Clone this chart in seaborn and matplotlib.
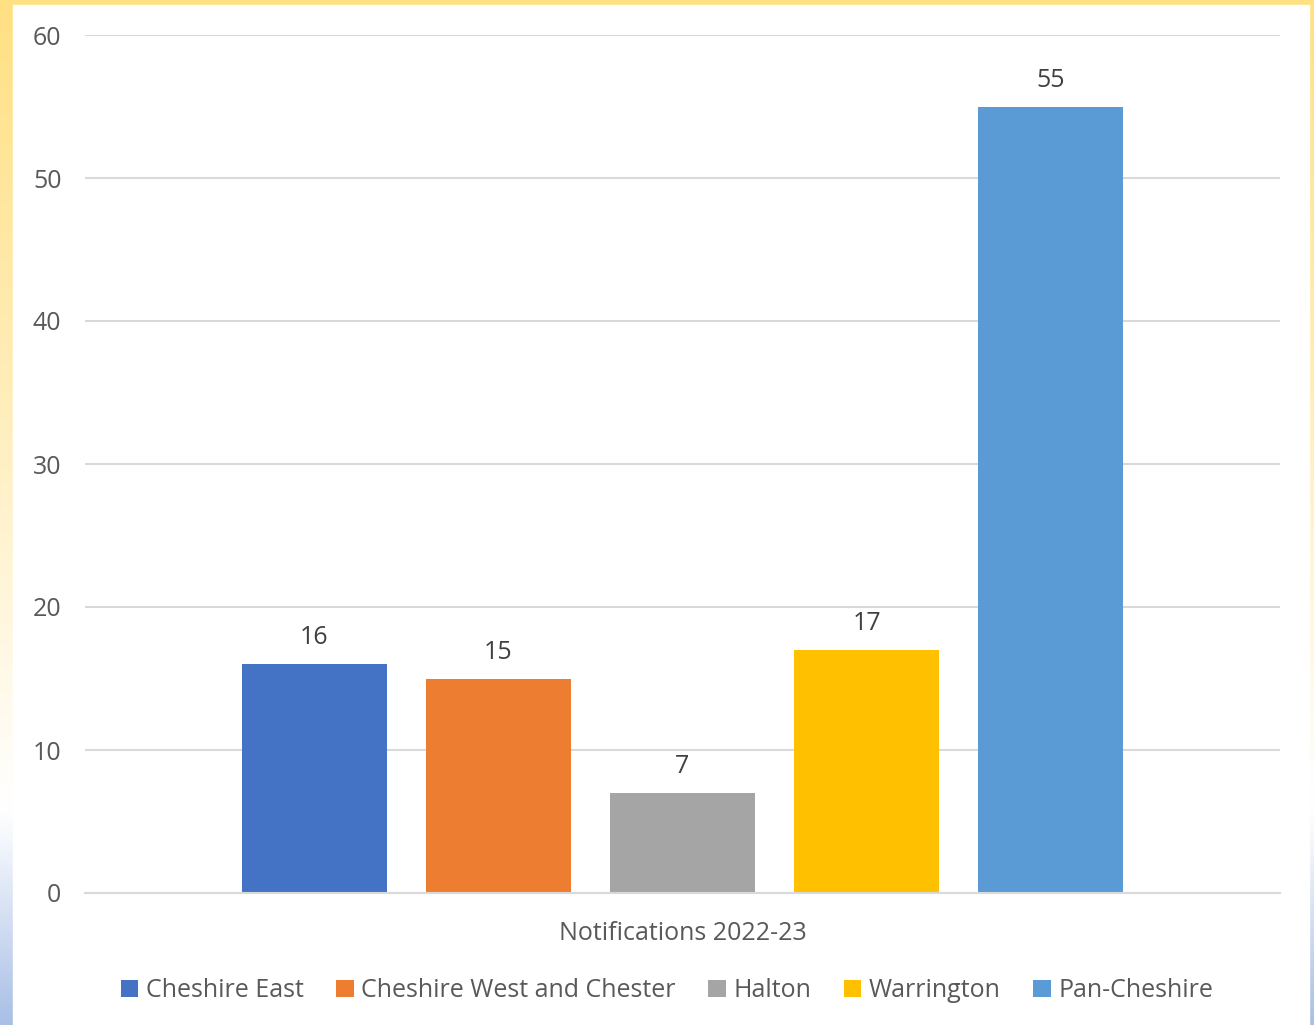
import matplotlib
matplotlib.use("Agg")
import matplotlib.pyplot as plt
import seaborn as sns
import numpy as np
import pandas as pd
from matplotlib.colors import LinearSegmentedColormap

# ---- data ----
period = ["Notifications 2022-23"]
areas = ["Cheshire East", "Cheshire West and Chester", "Halton", "Warrington", "Pan-Cheshire"]
counts = [16, 15, 7, 17, 55]
bar_colors = ["#4472C4", "#ED7D31", "#A5A5A5", "#FFC000", "#5B9BD5"]

df = pd.DataFrame({"period": period * len(areas), "area": areas, "count": counts})

sns.set_theme(style="white")
plt.rcParams["font.family"] = ["Open Sans", "DejaVu Sans"]
text_grey = "#595959"
fs = 18

fig = plt.figure(figsize=(13.14, 10.25), dpi=100)

# ---- background gradient border ----
bg = fig.add_axes([0, 0, 1, 1], zorder=0)
grad_cmap = LinearSegmentedColormap.from_list(
    "bg", [(0.0, "#FFE082"), (0.45, "#FFF0C4"), (0.79, "#FFFFFF"), (0.82, "#F4F7FC"), (1.0, "#A9BFE6")])
bg.imshow(np.linspace(0, 1, 256).reshape(-1, 1), aspect="auto", cmap=grad_cmap,
          extent=[0, 1, 0, 1], origin="upper")
bg.add_patch(plt.Rectangle((13 / 1314, 0), (1309 - 13) / 1314, (1025 - 5) / 1025,
                           color="white", transform=bg.transAxes))
bg.set_xlim(0, 1)
bg.set_ylim(0, 1)
bg.axis("off")

# ---- chart ----
ax = fig.add_axes([85 / 1314, 132 / 1025, (1280 - 85) / 1314, (893 - 35) / 1025], zorder=1)
ax.patch.set_alpha(0)
sns.barplot(data=df, x="period", y="count", hue="area", hue_order=areas,
            palette=bar_colors, width=0.77, gap=0.21, saturation=1, linewidth=0,
            ax=ax, legend=True)

ax.set_ylim(0, 60)
ax.set_yticks(range(0, 61, 10))
ax.yaxis.grid(True, color="#D9D9D9", linewidth=1.5)
ax.set_axisbelow(True)
for s in ax.spines.values():
    s.set_visible(False)
ax.spines["bottom"].set_visible(True)
ax.spines["bottom"].set_color("#D9D9D9")
ax.spines["bottom"].set_linewidth(1.5)
ax.tick_params(axis="y", length=0, pad=17, labelsize=fs, labelcolor=text_grey)
ax.tick_params(axis="x", length=0, pad=20, labelsize=fs, labelcolor=text_grey)
ax.set_xlabel("")
ax.set_ylabel("")

for c in ax.containers:
    ax.bar_label(c, padding=10, fontsize=fs, color="#404040")

handles, labels = ax.get_legend_handles_labels()
ax.legend(handles, labels, loc="upper center", bbox_to_anchor=(0.487, -0.073), ncol=5,
          frameon=False, fontsize=fs, labelcolor=text_grey, handlelength=0.7, handleheight=0.7,
          handletextpad=0.3, columnspacing=1.3)

fig.savefig("out.png", dpi=100)
